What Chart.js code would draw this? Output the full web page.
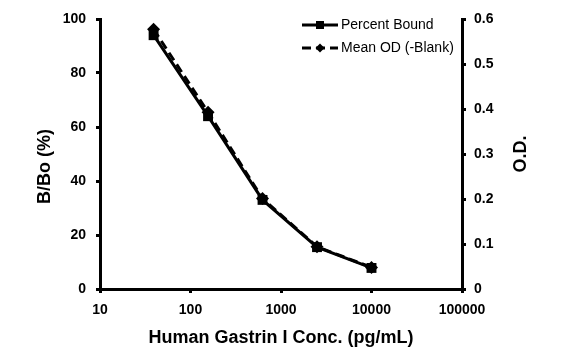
<!DOCTYPE html>
<html>
<head>
<meta charset="utf-8">
<script src="https://cdn.jsdelivr.net/npm/chart.js@4"></script>
<style>
  html, body { margin: 0; padding: 0; background: #fff; }
  #wrap { width: 565px; height: 357px; }
</style>
</head>
<body>
<div id="wrap"><canvas id="myChart" width="565" height="357"></canvas></div>
<script>
// concentrations (pg/mL) of the standard curve
const concentrations = [39.1, 156.25, 625, 2500, 10000]
// left axis, B/Bo (%)
const percentBound = [94, 64, 33, 15.5, 7.8]
// right axis, O.D.
const meanOD = [0.577, 0.393, 0.201, 0.094, 0.048]
const xTicks = [10, 100, 1000, 10000, 100000]
const seriesNames = ["Percent Bound", "Mean OD (-Blank)"]

const font = "'Liberation Sans', Arial, sans-serif"

//draws the little legend in the top right of the plot, plus the right axis title
//(chart.js turns a right side title the other way round)
const extrasPlugin = {
    id: "extras",
    afterDatasetsDraw(chart) {
        const ctx = chart.ctx
        const rowsY = [25, 48]
        chart.data.datasets.forEach(function(ds, i) {
            const y = rowsY[i]
            ctx.save()
            ctx.strokeStyle = "#000"
            ctx.lineWidth = 3
            ctx.setLineDash(ds.borderDash || [])
            ctx.beginPath()
            ctx.moveTo(302, y)
            ctx.lineTo(338, y)
            ctx.stroke()
            ctx.setLineDash([])
            ctx.fillStyle = "#000"
            if (ds.pointStyle === "rect") {
                ctx.fillRect(316, y - 4, 8, 8)
            } else {
                ctx.beginPath()
                ctx.moveTo(320, y - 4.5)
                ctx.lineTo(324.5, y)
                ctx.lineTo(320, y + 4.5)
                ctx.lineTo(315.5, y)
                ctx.closePath()
                ctx.fill()
            }
            ctx.font = "14px " + font
            ctx.textBaseline = "middle"
            ctx.fillText(ds.label, 341, y)
            ctx.restore()
        })
        const area = chart.chartArea
        ctx.save()
        ctx.translate(521, (area.top + area.bottom) / 2)
        ctx.rotate(-Math.PI / 2)
        ctx.fillStyle = "#000"
        ctx.font = "bold 18px " + font
        ctx.textAlign = "center"
        ctx.textBaseline = "middle"
        ctx.fillText("O.D.", 0, 0)
        ctx.restore()
    }
}

const axisGrid = {
    drawOnChartArea: false,
    drawTicks: true,
    tickLength: 4,
    color: "#000",
    lineWidth: 3
}
const axisBorder = { display: true, color: "#000", width: 3 }
const tickFont = { family: font, size: 14, weight: "bold" }
const titleFont = { family: font, size: 18, weight: "bold" }

const ctx = document.getElementById("myChart")
const myChart = new Chart(ctx, {
    type: "line",
    data: {
        datasets: [{
            label: seriesNames[0],
            data: concentrations.map((c, i) => ({ x: c, y: percentBound[i] })),
            yAxisID: "y",
            borderColor: "#000",
            backgroundColor: "#000",
            borderWidth: 3,
            pointStyle: "rect",
            pointRadius: 7,
            pointBorderWidth: 0,
            tension: 0
        }, {
            label: seriesNames[1],
            data: concentrations.map((c, i) => ({ x: c, y: meanOD[i] })),
            yAxisID: "y1",
            borderColor: "#000",
            backgroundColor: "#000",
            borderWidth: 3,
            borderDash: [9, 5],
            pointStyle: "rectRot",
            pointRadius: 6.5,
            pointBorderWidth: 0,
            tension: 0
        }]
    },
    options: {
        responsive: false,
        animation: false,
        layout: { padding: { top: 19, left: 0, right: 0, bottom: 0 } },
        plugins: { legend: { display: false }, tooltip: { enabled: false } },
        scales: {
            x: {
                type: "logarithmic",
                min: 10,
                max: 100000,
                afterBuildTicks: s => { s.ticks = xTicks.map(v => ({ value: v })) },
                afterFit: s => { s.height = 68 },
                grid: axisGrid,
                border: axisBorder,
                ticks: {
                    color: "#000", font: tickFont, padding: 9, maxRotation: 0,
                    callback: v => String(v)
                },
                title: {
                    display: true, text: "Human Gastrin I Conc. (pg/mL)", color: "#000",
                    font: titleFont, padding: { top: 0, bottom: 8 }
                }
            },
            y: {
                position: "left",
                min: 0,
                max: 100,
                afterFit: s => { s.width = 100 },
                grid: axisGrid,
                border: axisBorder,
                ticks: { stepSize: 20, color: "#000", font: tickFont, padding: 10 },
                title: {
                    display: true, text: "B/Bo (%)     ", color: "#000",
                    font: titleFont, padding: { top: 34, bottom: 0 }
                }
            },
            y1: {
                position: "right",
                min: 0,
                max: 0.6,
                afterFit: s => { s.width = 103 },
                grid: axisGrid,
                border: axisBorder,
                ticks: {
                    stepSize: 0.1, color: "#000", font: tickFont, padding: 8,
                    callback: v => Number(v.toFixed(1)).toString()
                },
                title: { display: false }
            }
        }
    },
    plugins: [extrasPlugin]
})
</script>
</body>
</html>
